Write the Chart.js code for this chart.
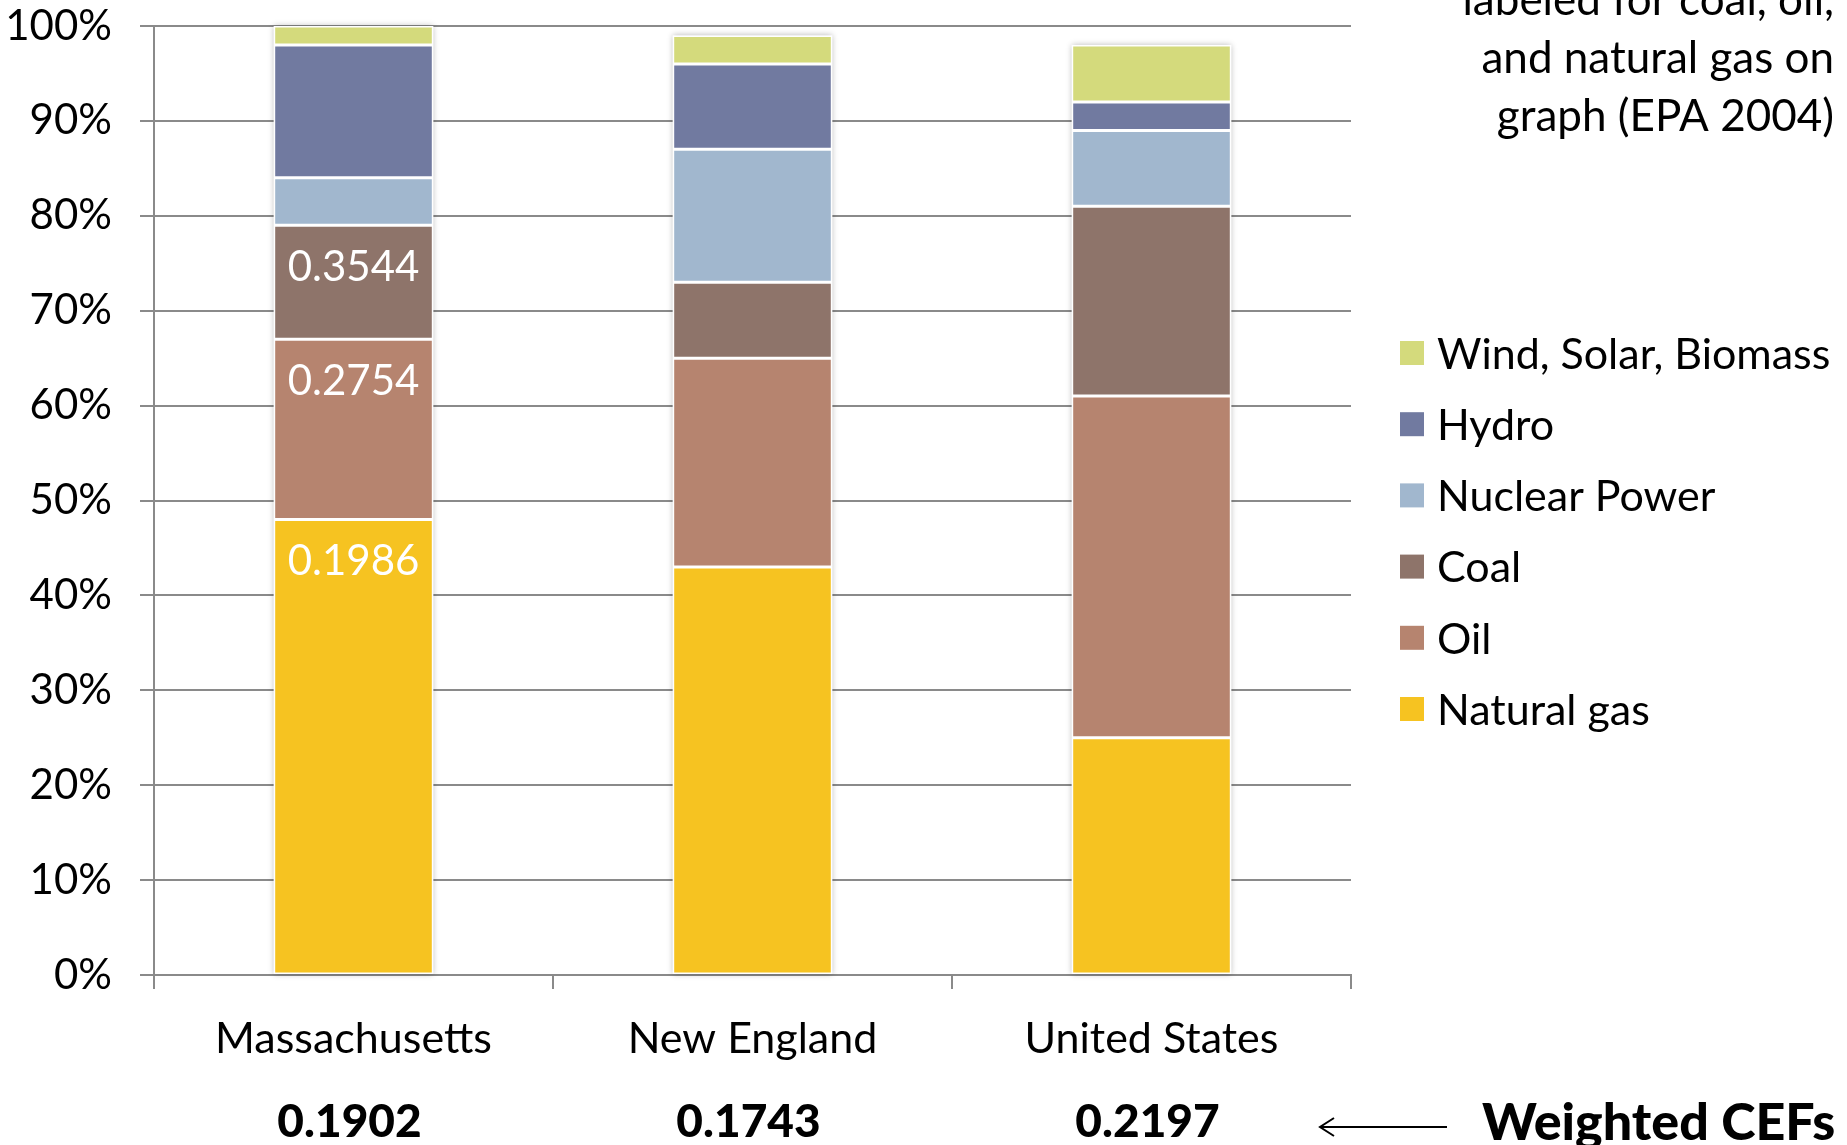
<!DOCTYPE html>
<html>
<head>
<meta charset="utf-8">
<script src="https://cdn.jsdelivr.net/npm/chart.js@4.4.1/dist/chart.umd.min.js"></script>
<style>
  html, body { margin: 0; padding: 0; background: #ffffff; }
  #wrap { width: 1847px; height: 1145px; position: relative; overflow: hidden; }
  canvas { display: block; }
</style>
</head>
<body>
<div id="wrap"><canvas id="mix" width="1847" height="1145"></canvas></div>
<script>
// Electricity generation mix by region (percent of total)
const regions = ['Massachusetts', 'New England', 'United States'];
const naturalGas = [48, 43, 25];
const oil = [19, 22, 36];
const coal = [12, 8, 20];
const nuclearPower = [5, 14, 8];
const hydro = [14, 9, 3];
const windSolarBiomass = [2, 3, 6];

// Carbon emission factors printed inside the Massachusetts bar
const fuelCefLabels = ['0.1986', '0.2754', '0.3544'];   // natural gas, oil, coal
// Weighted CEF for each region, printed under the category names
const weightedCefs = ['0.1902', '0.1743', '0.2197'];

const noteLines = ['labeled for coal, oil,', 'and natural gas on', 'graph (EPA 2004)'];

const FONT = 'Lato, "Open Sans", sans-serif';
const GRID = '#8a8a8a';

const datasets = [
  { label: 'Natural gas', data: naturalGas, backgroundColor: '#F6C321' },
  { label: 'Oil', data: oil, backgroundColor: '#B6846F' },
  { label: 'Coal', data: coal, backgroundColor: '#8E746A' },
  { label: 'Nuclear Power', data: nuclearPower, backgroundColor: '#A1B7CE' },
  { label: 'Hydro', data: hydro, backgroundColor: '#717AA0' },
  { label: 'Wind, Solar, Biomass', data: windSolarBiomass, backgroundColor: '#D4DA7C' }
].map(d => Object.assign(d, {
  borderColor: '#ffffff',
  borderWidth: 1.5,
  borderSkipped: false,
  categoryPercentage: 1.0,
  barPercentage: 0.4
}));

// Soft shadow behind each full stacked column
const columnShadow = {
  id: 'columnShadow',
  beforeDatasetsDraw(chart) {
    const ctx = chart.ctx;
    const first = chart.getDatasetMeta(0).data;
    const last = chart.getDatasetMeta(chart.data.datasets.length - 1).data;
    ctx.save();
    ctx.shadowColor = 'rgba(0,0,0,0.28)';
    ctx.shadowBlur = 6;
    ctx.fillStyle = '#ffffff';
    first.forEach((bar, i) => {
      const top = last[i].y;
      const bottom = bar.base;
      ctx.fillRect(bar.x - bar.width / 2, top, bar.width, bottom - top);
    });
    ctx.restore();
  }
};

// Fuel CEF values written near the top of the gas, oil and coal segments
const segmentLabels = {
  id: 'segmentLabels',
  afterDatasetsDraw(chart) {
    const ctx = chart.ctx;
    ctx.save();
    ctx.fillStyle = '#ffffff';
    ctx.font = '42px ' + FONT;
    ctx.textAlign = 'center';
    ctx.textBaseline = 'middle';
    fuelCefLabels.forEach((txt, di) => {
      const el = chart.getDatasetMeta(di).data[0];
      ctx.fillText(txt, el.x, el.y + 42);
    });
    ctx.restore();
  }
};

// Legend, weighted CEF row, arrow and note text
const annotations = {
  id: 'annotations',
  afterDraw(chart) {
    const ctx = chart.ctx;
    const xs = chart.scales.x;
    ctx.save();

    // legend (top entry is the top of the stack)
    const ds = chart.data.datasets.slice().reverse();
    ctx.font = '43px ' + FONT;
    ctx.textAlign = 'left';
    ctx.textBaseline = 'middle';
    ds.forEach((d, i) => {
      const cy = 353 + i * 71.2;
      ctx.fillStyle = d.backgroundColor;
      ctx.fillRect(1400, cy - 12, 24, 24);
      ctx.fillStyle = '#000000';
      ctx.fillText(d.label, 1437, cy + 2);
    });

    // weighted CEFs
    ctx.font = '900 46px ' + FONT;
    ctx.textAlign = 'center';
    ctx.textBaseline = 'alphabetic';
    weightedCefs.forEach((v, i) => {
      ctx.fillText(v, xs.getPixelForValue(i) - 4, 1137);
    });

    // arrow pointing at the CEF row
    ctx.strokeStyle = '#000000';
    ctx.lineWidth = 2;
    ctx.beginPath();
    ctx.moveTo(1447, 1127);
    ctx.lineTo(1320, 1127);
    ctx.moveTo(1334, 1118);
    ctx.lineTo(1320, 1127);
    ctx.lineTo(1334, 1136);
    ctx.stroke();

    ctx.font = '900 52px ' + FONT;
    ctx.textAlign = 'left';
    ctx.fillText('Weighted CEFs', 1482, 1140);

    // note in the top-right corner
    ctx.font = '44px ' + FONT;
    ctx.textAlign = 'right';
    noteLines.forEach((t, i) => {
      ctx.fillText(t, 1834, 15 + i * 58);
    });
    ctx.restore();
  }
};

new Chart(document.getElementById('mix'), {
  type: 'bar',
  data: { labels: regions, datasets },
  options: {
    responsive: false,
    animation: false,
    devicePixelRatio: 1,
    layout: { padding: { left: 0, right: 496, top: 26, bottom: 0 } },
    plugins: { legend: { display: false }, tooltip: { enabled: false } },
    scales: {
      x: {
        stacked: true,
        grid: { offset: true, drawOnChartArea: false, color: GRID, lineWidth: 2, tickLength: 14, tickWidth: 2 },
        border: { color: GRID, width: 2 },
        ticks: { color: '#000000', font: { family: FONT, size: 43 }, padding: 24, maxRotation: 0 },
        afterFit(s) { s.height = 170; s.paddingLeft = 0; s.paddingRight = 0; }
      },
      y: {
        stacked: true,
        min: 0,
        max: 100,
        ticks: { stepSize: 10, color: '#000000', font: { family: FONT, size: 42 }, padding: 28,
                 callback: v => v + '%' },
        grid: { color: GRID, lineWidth: 2, tickLength: 14, tickWidth: 2 },
        border: { color: GRID, width: 2 },
        afterFit(s) { s.width = 154; s.paddingTop = 0; s.paddingBottom = 0; }
      }
    }
  },
  plugins: [columnShadow, segmentLabels, annotations]
});
</script>
</body>
</html>
